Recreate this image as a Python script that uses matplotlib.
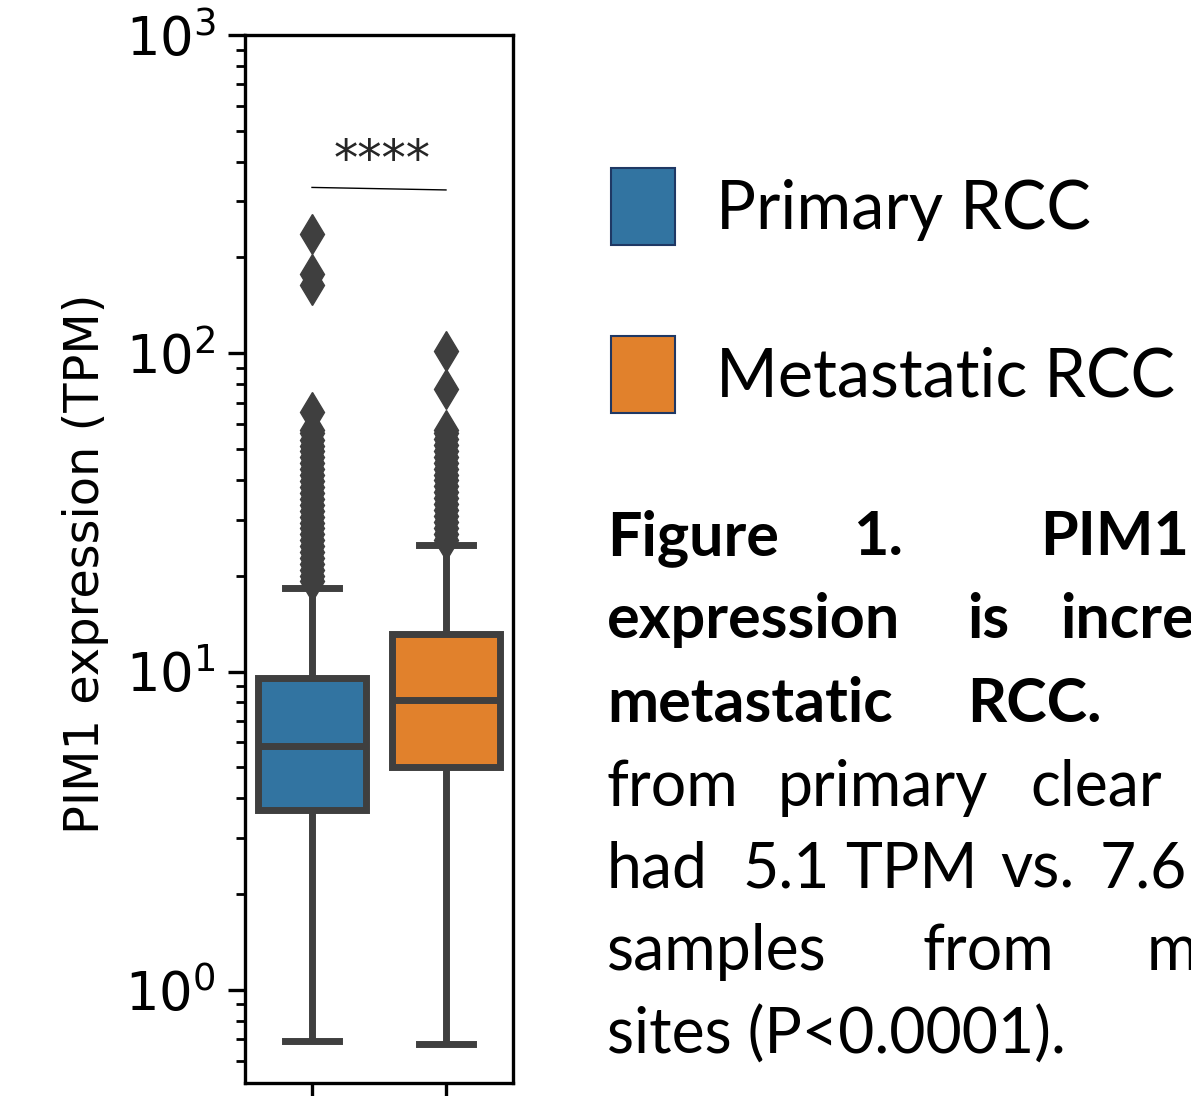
import matplotlib
matplotlib.use("Agg")
import matplotlib.pyplot as plt
from matplotlib.patches import Patch

# ---------------- data ----------------
categories = ["Primary RCC", "Metastatic RCC"]
colors = ["#3274a1", "#e1812c"]

q1 = [3.67, 5.01]
median = [5.84, 8.14]
q3 = [9.55, 13.1]
whisker_low = [0.69, 0.676]
whisker_high = [18.3, 24.9]

fliers_primary = [19.2, 20.0, 20.9, 21.8, 22.7, 23.7, 24.8, 25.9, 27.0, 28.2,
                  29.4, 30.7, 32.0, 33.4, 34.9, 36.4, 38.0, 39.7, 41.4, 43.2,
                  45.1, 47.1, 49.2, 51.3, 53.6, 56.0, 57.5, 65.3, 163.5, 177.0,
                  236.5]
fliers_metastatic = [26.0, 27.1, 28.3, 29.5, 30.8, 32.2, 33.6, 35.1, 36.6, 38.2,
                     39.9, 41.6, 43.4, 45.3, 47.3, 49.4, 51.5, 53.8, 56.2, 57.3,
                     77.0, 101.5]
fliers = [fliers_primary, fliers_metastatic]

ylabel = "PIM1 expression (TPM)"
sig_label = "****"
sig_y = [332, 326]
sig_text_y = 362

caption_lines = [
    [("Figure", 607, "bold"), ("1.", 853, "bold"), ("PIM1", 1040, "bold")],
    [("expression", 607, "bold"), ("is", 967, "bold"), ("incre", 1060, "bold")],
    [("metastatic", 607, "bold"), ("RCC.", 967, "bold")],
    [("from", 607, "normal"), ("primary", 778, "normal"), ("clear", 1030, "normal")],
    [("had", 607, "normal"), ("5.1", 742, "normal"), ("TPM", 845, "normal"),
     ("vs.", 1000, "normal"), ("7.6", 1100, "normal")],
    [("samples", 607, "normal"), ("from", 922, "normal"), ("m", 1147, "normal")],
    [("sites (P<0.0001).", 607, "normal")],
]
caption_baselines = [555, 638, 722, 806, 888, 970, 1054]

# ---------------- figure ----------------
W, H = 1191, 1096
fig = plt.figure(figsize=(W / 100, H / 100), dpi=100)
ax = fig.add_axes([245 / W, 13 / H, 268 / W, 1048 / H])

stats = []
for i, cat in enumerate(categories):
    stats.append(dict(label=cat, q1=q1[i], med=median[i], q3=q3[i],
                      whislo=whisker_low[i], whishi=whisker_high[i],
                      fliers=fliers[i]))

edge = "#3f3f3f"
lw = 5
bp = ax.bxp(stats, positions=[0, 1], widths=0.8, capwidths=0.4,
            patch_artist=True, showfliers=True,
            boxprops=dict(edgecolor=edge, linewidth=lw),
            whiskerprops=dict(color=edge, linewidth=lw, solid_capstyle="butt"),
            capprops=dict(color=edge, linewidth=lw, solid_capstyle="projecting"),
            medianprops=dict(color=edge, linewidth=lw, solid_capstyle="butt"),
            flierprops=dict(marker="d", markersize=20, markerfacecolor=edge,
                            markeredgecolor=edge, markeredgewidth=1,
                            linestyle="none"))
for patch, c in zip(bp["boxes"], colors):
    patch.set_facecolor(c)

ax.set_yscale("log")
ax.set_ylim(0.51, 1000)
ax.set_xlim(-0.5, 1.5)
ax.set_xticks([0, 1])
ax.set_xticklabels(["", ""])

for s in ax.spines.values():
    s.set_linewidth(2.4)
    s.set_color("black")

ax.tick_params(axis="y", which="major", labelsize=38, length=12, width=2.4,
               direction="out", pad=9)
ax.tick_params(axis="y", which="minor", length=6.5, width=2.0)
ax.tick_params(axis="x", which="major", length=12, width=2.4)

ax.set_ylabel(ylabel, fontsize=34.5)
ax.yaxis.set_label_coords(-0.507, 0.495)

# significance annotation
ax.plot([0, 1], sig_y, color="black", linewidth=1.0)
ax.text(0.52, sig_text_y, sig_label, ha="center", va="baseline",
        fontsize=35, color="#262626")

# legend
handles = [Patch(facecolor=c, edgecolor="#1f3864", linewidth=1.5) for c in colors]
fs_leg = 48
fpx = fs_leg * 100 / 72
fig.legend(handles, categories, loc="upper left",
           bbox_to_anchor=(611 / W, 1 - 168 / H),
           frameon=False, borderpad=0, borderaxespad=0,
           prop=dict(family="Lato", size=fs_leg),
           handlelength=64 / fpx, handleheight=1.40,
           handletextpad=0.62, labelspacing=91 / fpx)

# caption
for line, base in zip(caption_lines, caption_baselines):
    for word, x, weight in line:
        fs = 44 if weight == "bold" else 45
        fig.text(x / W, 1 - base / H, word, ha="left", va="baseline",
                 fontsize=fs, family="Lato", weight=weight, color="black")

fig.savefig("out.png", dpi=100)
